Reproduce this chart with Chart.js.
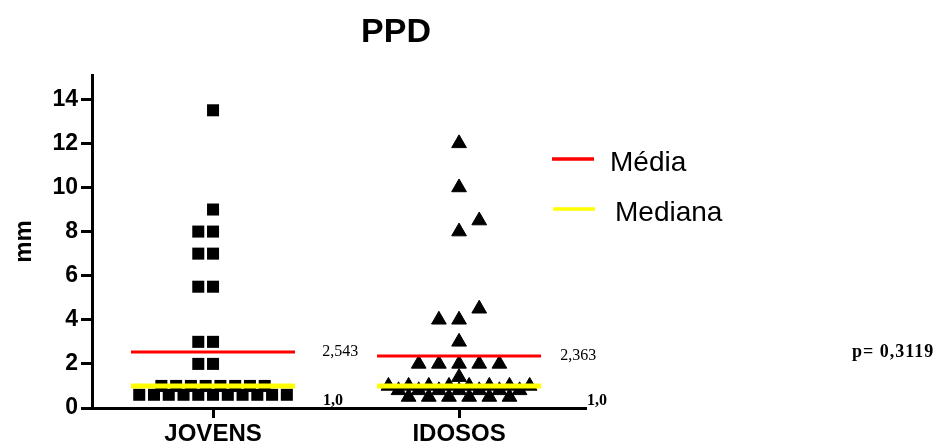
<!DOCTYPE html>
<html>
<head>
<meta charset="utf-8">
<title>PPD</title>
<script src="https://cdn.jsdelivr.net/npm/chart.js@4.4.1/dist/chart.umd.min.js"></script>
<style>
  html, body { margin: 0; padding: 0; background: #fff; }
  #wrap { width: 946px; height: 448px; }
</style>
</head>
<body>
<div id="wrap"><canvas id="chart-ppd" width="946" height="448"></canvas></div>
<script>
/* PPD — jovens x idosos, dispersão por coluna com média e mediana */

const groups = ['JOVENS', 'IDOSOS'];

const jovens = [13.5, 9, 8, 8, 7, 7, 5.5, 5.5, 3, 3, 2, 2,
                1, 1, 1, 1, 1, 1, 1, 1,
                0.6, 0.6, 0.6, 0.6, 0.6, 0.6, 0.6, 0.6, 0.6, 0.6, 0.6];

const idosos = [12, 10, 8, 8.5, 4, 4, 4.5, 3, 2, 2, 2, 2, 2, 1.4,
                1, 1, 1, 1, 1, 1, 1, 1,
                0.8, 0.8, 0.8, 0.8, 0.8, 0.8, 0.8,
                0.5, 0.5, 0.5, 0.5, 0.5, 0.5];

const medias   = [2.543, 2.363];
const medianas = [1.0, 1.0];
const pValue   = '0,3119';
const yTicks   = [0, 2, 4, 6, 8, 10, 12, 14];

const SANS  = '"Liberation Sans", Arial, sans-serif';
const SERIF = '"Liberation Serif", "Times New Roman", serif';
const HALF  = 1 / 3;   // meia largura das linhas de média/mediana

// equal values sit side by side (pairs lean left, bigger runs are centred);
// a lone point that would sit on top of an earlier one moves one slot right
function spread(values, center, step, tol) {
  const counts = {}, seen = {}, placed = [];
  values.forEach(v => { counts[v] = (counts[v] || 0) + 1; });
  values.forEach(v => {
    const n = counts[v];
    const i = seen[v] = (seen[v] === undefined ? 0 : seen[v] + 1);
    let slot = n === 2 ? i - 1 : i - (n - 1) / 2;
    if (n === 1) {
      while (placed.some(p => Math.abs(p.slot - slot) < 0.7 && Math.abs(p.y - v) < tol)) slot += 1;
    }
    placed.push({ slot, y: v });
  });
  return placed.map(p => ({ x: center + p.slot * step, y: p.y }));
}

function levelLine(vals) {
  const pts = [];
  vals.forEach((v, i) => {
    if (i) pts.push({ x: i + 0.5, y: null });
    pts.push({ x: i + 1 - HALF, y: v }, { x: i + 1 + HALF, y: v });
  });
  return pts;
}

const fmt = (v, d) => v.toFixed(d).replace('.', ',');

const extras = {
  id: 'extras',
  afterDraw(chart) {
    const { ctx, scales: { x, y } } = chart;
    ctx.save();
    ctx.fillStyle = '#000';

    // title
    ctx.font = 'bold 34px ' + SANS;
    ctx.textAlign = 'center';
    ctx.textBaseline = 'alphabetic';
    ctx.fillText('PPD', 396, 42);

    // legend (mean / median)
    ctx.font = '28px ' + SANS;
    ctx.textAlign = 'left';
    ctx.textBaseline = 'middle';
    [0, 1].forEach(k => {
      const ds = chart.data.datasets[k];
      const ly = 159 + k * 50;
      ctx.strokeStyle = ds.borderColor;
      ctx.lineWidth = 3.5;
      ctx.beginPath();
      ctx.moveTo(552 + k, ly);
      ctx.lineTo(594 + k, ly);
      ctx.stroke();
      ctx.fillText(ds.label, 610 + k * 5, ly + 4);
    });

    // value labels
    const meanDx = [0.444, 0.411];
    const medDx  = [0.447, 0.520];
    groups.forEach((g, i) => {
      ctx.font = '16px ' + SERIF;
      ctx.textBaseline = 'middle';
      ctx.fillText(fmt(medias[i], 3), x.getPixelForValue(i + 1 + meanDx[i]), y.getPixelForValue(medias[i]));
      ctx.font = 'bold 16px ' + SERIF;
      ctx.textBaseline = 'alphabetic';
      ctx.fillText(fmt(medianas[i], 1), x.getPixelForValue(i + 1 + medDx[i]), y.getPixelForValue(0) - 3);
    });

    // p value
    ctx.font = 'bold 18px ' + SERIF;
    ctx.letterSpacing = '1px';
    ctx.textBaseline = 'middle';
    ctx.fillText('p= ' + pValue, 852, 352);
    ctx.restore();
  }
};

new Chart(document.getElementById('chart-ppd'), {
  type: 'scatter',
  data: {
    datasets: [
      {
        label: 'Média',
        data: levelLine(medias),
        showLine: true, spanGaps: false,
        borderColor: '#ff0000', borderWidth: 3,
        pointRadius: 0, order: 0
      },
      {
        label: 'Mediana',
        data: levelLine(medianas),
        showLine: true, spanGaps: false,
        borderColor: '#ffff00', borderWidth: 5,
        pointRadius: 0, order: 1
      },
      {
        label: groups[0],
        data: spread(jovens, 1, 0.06, 0.55),
        pointStyle: 'rect', pointRadius: 8.5,
        backgroundColor: '#000', borderColor: '#000', borderWidth: 0,
        order: 3
      },
      {
        label: groups[1],
        data: spread(idosos, 2, 0.082, 0.55),
        pointStyle: 'triangle', pointRadius: 8.5,
        backgroundColor: '#000', borderColor: '#000', borderWidth: 1,
        order: 2
      }
    ]
  },
  options: {
    responsive: false,
    animation: false,
    layout: { padding: { top: 75, right: 360, bottom: 0, left: 0 } },
    plugins: { legend: { display: false }, tooltip: { enabled: false } },
    scales: {
      x: {
        type: 'linear', min: 0.508, max: 2.516,
        afterBuildTicks: s => { s.ticks = groups.map((g, i) => ({ value: i + 1 })); },
        afterFit: s => { s.height = 40; },
        ticks: {
          callback: v => groups[v - 1],
          color: '#000', padding: 2, maxRotation: 0, autoSkip: false,
          font: { family: SANS, size: 24, weight: 'bold' }
        },
        grid: { drawOnChartArea: false, tickLength: 10, tickWidth: 3, tickColor: '#000' },
        border: { color: '#000', width: 3 }
      },
      y: {
        min: 0, max: 15.1,
        afterBuildTicks: s => { s.ticks = yTicks.map(v => ({ value: v })); },
        afterFit: s => { s.width = 92; },
        ticks: {
          color: '#000', padding: 3,
          font: { family: SANS, size: 23, weight: 'bold' }
        },
        grid: { drawOnChartArea: false, tickLength: 11, tickWidth: 3, tickColor: '#000' },
        border: { color: '#000', width: 3 },
        title: {
          display: true, text: 'mm', color: '#000',
          font: { family: SANS, size: 24, weight: 'bold' },
          padding: { top: 10, bottom: 0 }
        }
      }
    }
  },
  plugins: [extras]
});
</script>
</body>
</html>
